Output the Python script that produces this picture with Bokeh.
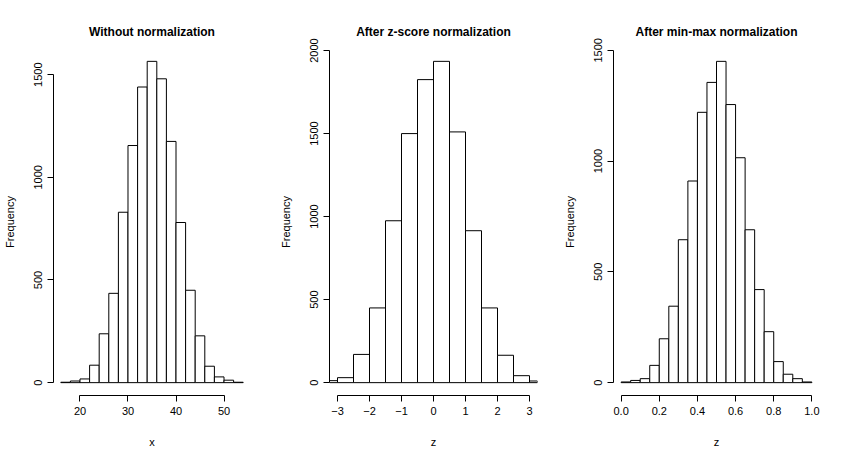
import numpy as np
from bokeh.embed import file_html
from bokeh.layouts import row
from bokeh.models import FixedTicker, Range1d
from bokeh.plotting import figure
from bokeh.resources import INLINE

# raw x: bins of width 2 from 16 to 54
raw_edges = list(range(16, 56, 2))
raw_counts = [2, 8, 18, 85, 238, 435, 830, 1155, 1440, 1565, 1480, 1175, 780, 450, 228, 80, 28, 12, 2]

# z-score: edges -3.25, -3, -2.5 ... 3, 3.25
z_edges = [-3.25] + [v / 2 for v in range(-6, 7)] + [3.25]
z_counts = [12, 30, 170, 450, 975, 1500, 1825, 1935, 1510, 915, 450, 165, 42, 10]

# min-max: bins of width 0.05
mm_edges = [i / 20 for i in range(21)]
mm_counts = [3, 10, 18, 78, 198, 345, 645, 910, 1220, 1355, 1450, 1255, 1015, 690, 420, 230, 95, 38, 18, 3]

FONT = "Liberation Sans"


def hist_panel(title, xlabel, edges, counts, xr, xticks, yticks, border_l, border_r, xfmt=None):
    ymax = max(counts) * 1.04
    p = figure(width=275, height=450, output_backend="svg", toolbar_location=None,
               x_range=Range1d(*xr), y_range=Range1d(-0.04 * max(counts), ymax),
               min_border_left=border_l, min_border_right=border_r,
               min_border_top=48, min_border_bottom=49,
               title=title, x_axis_label=xlabel, y_axis_label="Frequency")
    p.outline_line_color = None
    p.xgrid.visible = False
    p.ygrid.visible = False
    p.quad(left=edges[:-1], right=edges[1:], bottom=0, top=counts,
           fill_color="white", line_color="black", line_width=1)

    p.title.align = "center"
    p.title.text_font = FONT
    p.title.text_font_size = "12px"
    p.title.text_font_style = "bold"
    p.title.text_color = "black"
    p.title.standoff = 20

    for ax in (p.xaxis, p.yaxis):
        ax.axis_line_color = "black"
        ax.major_tick_line_color = "black"
        ax.minor_tick_line_color = None
        ax.major_tick_out = 6
        ax.major_tick_in = 0
        ax.major_label_text_font = FONT
        ax.major_label_text_font_size = "11px"
        ax.major_label_text_color = "black"
        ax.axis_label_text_font = FONT
        ax.axis_label_text_font_size = "11px"
        ax.axis_label_text_font_style = "normal"
        ax.axis_label_text_color = "black"
    p.xaxis.ticker = FixedTicker(ticks=xticks)
    p.xaxis.bounds = (xticks[0], xticks[-1])
    p.yaxis.ticker = FixedTicker(ticks=yticks)
    p.yaxis.bounds = (yticks[0], yticks[-1])
    p.yaxis.major_label_orientation = "vertical"
    p.xaxis.axis_label_standoff = 18
    p.yaxis.axis_label_standoff = 16
    if xfmt is not None:
        p.xaxis.major_label_overrides = xfmt
    return p


p1 = hist_panel("Without normalization", "x", raw_edges, raw_counts,
                (14.48, 55.52), [20, 30, 40, 50], [0, 500, 1000, 1500], 42, 25)
p2 = hist_panel("After z-score normalization", "z", z_edges, z_counts,
                (-3.25, 3.25), [-3, -2, -1, 0, 1, 2, 3], [0, 500, 1000, 1500, 2000], 54, 13)
p3 = hist_panel("After min-max normalization", "z", mm_edges, mm_counts,
                (-0.04, 1.04), [0, 0.2, 0.4, 0.6, 0.8, 1.0], [0, 500, 1000, 1500], 63, 6,
                xfmt={0: "0.0", 1: "1.0"})

p = row(p1, p2, p3, spacing=0)
open("out.html", "w").write(file_html(p, INLINE))
